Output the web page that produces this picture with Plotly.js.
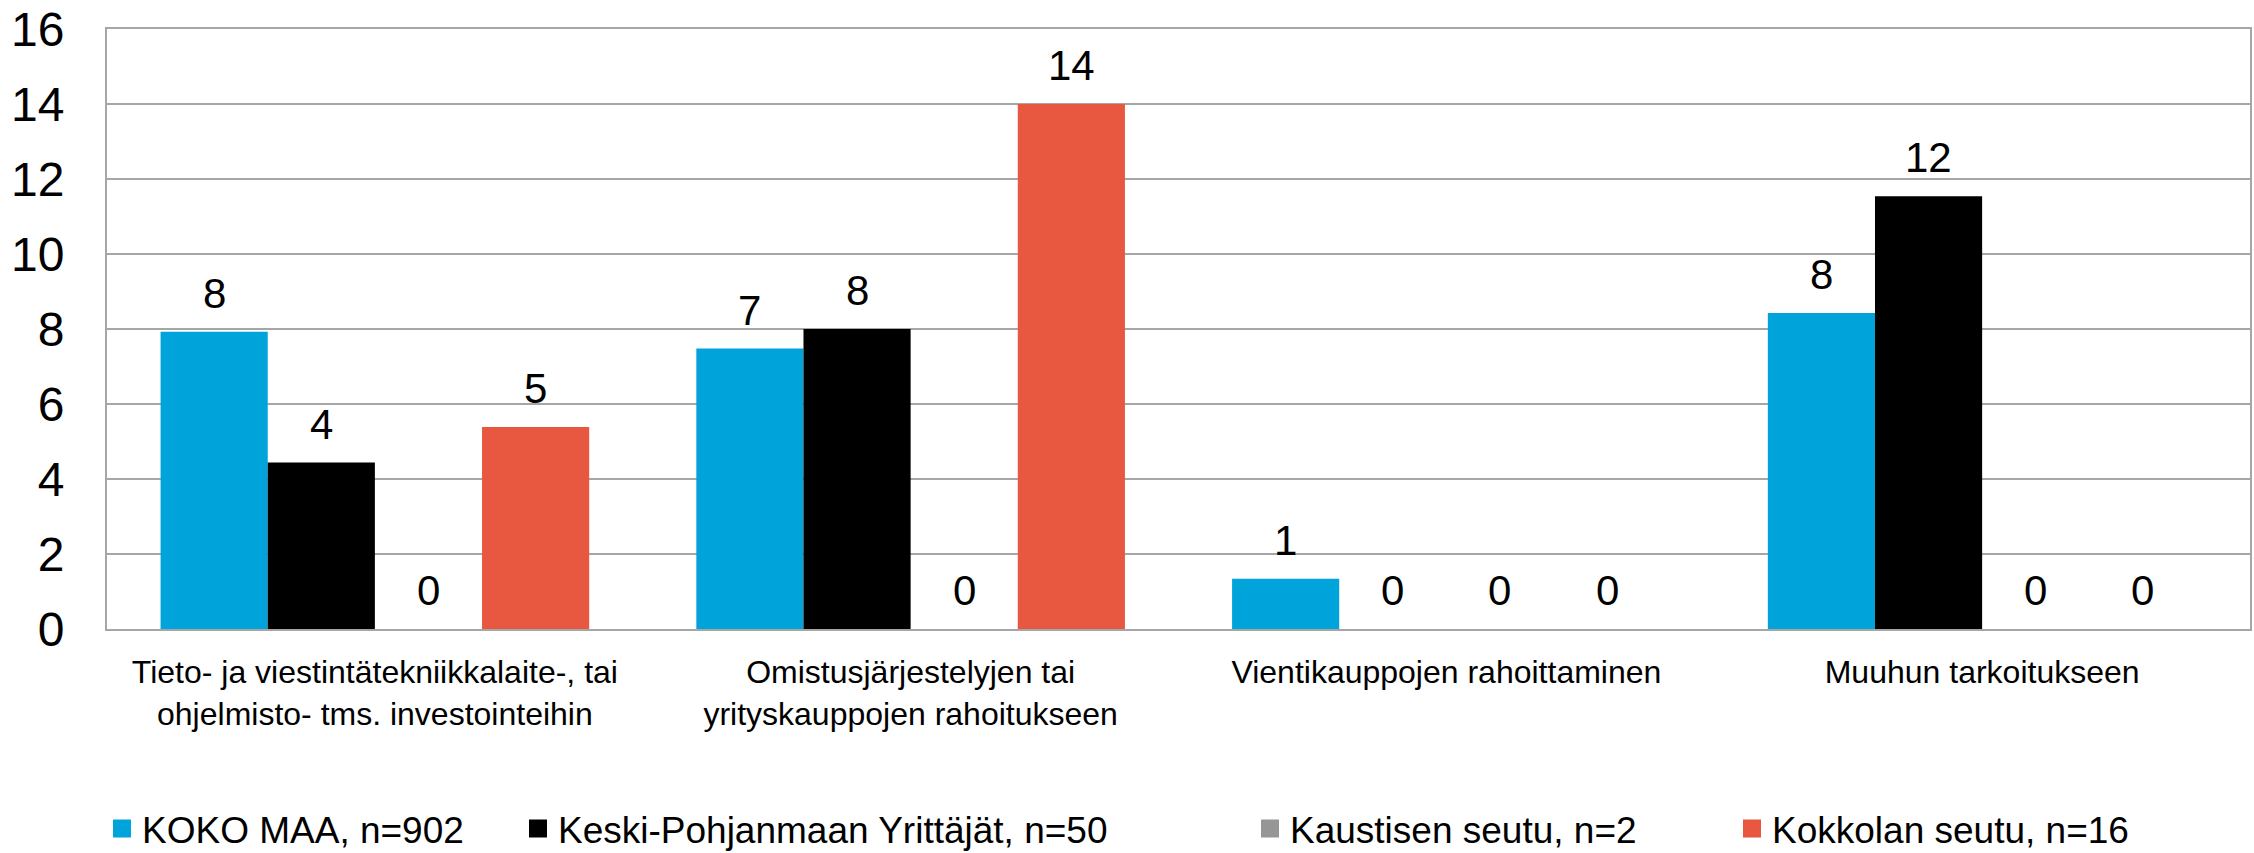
<!DOCTYPE html>
<html>
<head>
<meta charset="utf-8">
<script src="https://cdn.plot.ly/plotly-3.0.1.min.js"></script>
<style>
html,body{margin:0;padding:0;background:#fff;}
#chart{width:2254px;height:853px;}
</style>
</head>
<body>
<div id="chart"></div>
<script>
const categories = [
  "Tieto- ja viestintätekniikkalaite-, tai<br>ohjelmisto- tms. investointeihin",
  "Omistusjärjestelyjen tai<br>yrityskauppojen rahoitukseen",
  "Vientikauppojen rahoittaminen",
  "Muuhun tarkoitukseen"
];
const seriesNames = ["KOKO MAA, n=902", "Keski-Pohjanmaan Yrittäjät, n=50", "Kaustisen seutu, n=2", "Kokkolan seutu, n=16"];
const kokoMaa = [7.93, 7.48, 1.34, 8.43];
const keskiPohjanmaa = [4.44, 8.0, 0, 11.54];
const kaustinen = [0, 0, 0, 0];
const kokkola = [5.39, 14.0, 0, 0];
const yTicks = [0, 2, 4, 6, 8, 10, 12, 14, 16];

const colors = ["#00A3DA", "#000000", "#969696", "#E8573F"];
const values = [kokoMaa, keskiPohjanmaa, kaustinen, kokkola];
const legendIds = ["legend", "legend2", "legend3", "legend4"];
const font = "Liberation Sans, Arial, sans-serif";

const bargap = 0.2;
const nSeries = values.length;
const barW = (1 - bargap) / nSeries;

const barTraces = values.map((v, i) => ({
  type: "bar",
  name: seriesNames[i],
  x: categories,
  y: v,
  marker: {color: colors[i]},
  showlegend: false,
  hoverinfo: "none"
}));

// legend-only entries (square swatches)
const legendTraces = seriesNames.map((name, i) => ({
  type: "scatter",
  mode: "markers",
  name: name,
  x: [null],
  y: [null],
  marker: {symbol: "square", size: 16, color: colors[i], line: {color: colors[i], width: 2}},
  legend: legendIds[i],
  showlegend: true,
  hoverinfo: "none"
}));

// value labels above bars, built from the series arrays
const annotations = [];
values.forEach((v, s) => {
  v.forEach((val, c) => {
    annotations.push({
      xref: "x", yref: "y",
      x: c + (s - (nSeries - 1) / 2) * barW,
      y: val,
      text: String(Math.round(val)),
      showarrow: false,
      xanchor: "center",
      yanchor: "bottom",
      yshift: 13,
      font: {family: font, size: 42, color: "#000"}
    });
  });
});

const plotL = 107, plotR = 2250;
const textStarts = [143, 559, 1291, 1773];
const legendBase = {
  orientation: "h",
  xanchor: "left",
  yanchor: "middle",
  yref: "container",
  y: 1 - 829 / 853,
  font: {family: font, size: 37, color: "#000"},
  bgcolor: "rgba(0,0,0,0)",
  borderwidth: 0
};
const layout = {
  width: 2254,
  height: 853,
  margin: {l: plotL, r: 2254 - plotR, t: 29, b: 224, pad: 0, autoexpand: false},
  paper_bgcolor: "#fff",
  plot_bgcolor: "#fff",
  barmode: "group",
  bargap: bargap,
  bargroupgap: 0,
  font: {family: font, color: "#000"},
  showlegend: true,
  annotations: annotations,
  xaxis: {
    type: "category",
    automargin: false,
    tickfont: {family: font, size: 32, color: "#000"},
    ticks: "outside",
    ticklen: 14,
    tickcolor: "rgba(0,0,0,0)",
    showline: true,
    linecolor: "#a6a6a6",
    linewidth: 2,
    mirror: true,
    showgrid: false,
    zeroline: false
  },
  yaxis: {
    range: [0, 16],
    automargin: false,
    tickvals: yTicks,
    ticktext: yTicks.map(String),
    tickfont: {family: font, size: 48, color: "#000"},
    ticks: "outside",
    ticklen: 31,
    tickcolor: "rgba(0,0,0,0)",
    showline: true,
    linecolor: "#a6a6a6",
    linewidth: 2,
    mirror: true,
    showgrid: true,
    gridcolor: "#a6a6a6",
    gridwidth: 2,
    zeroline: false
  }
};
legendIds.forEach((id, i) => {
  layout[id] = Object.assign({}, legendBase, {xref: "container", x: (textStarts[i] - 41) / 2254});
});

Plotly.newPlot("chart", barTraces.concat(legendTraces), layout, {displayModeBar: false, staticPlot: true});
</script>
</body>
</html>
